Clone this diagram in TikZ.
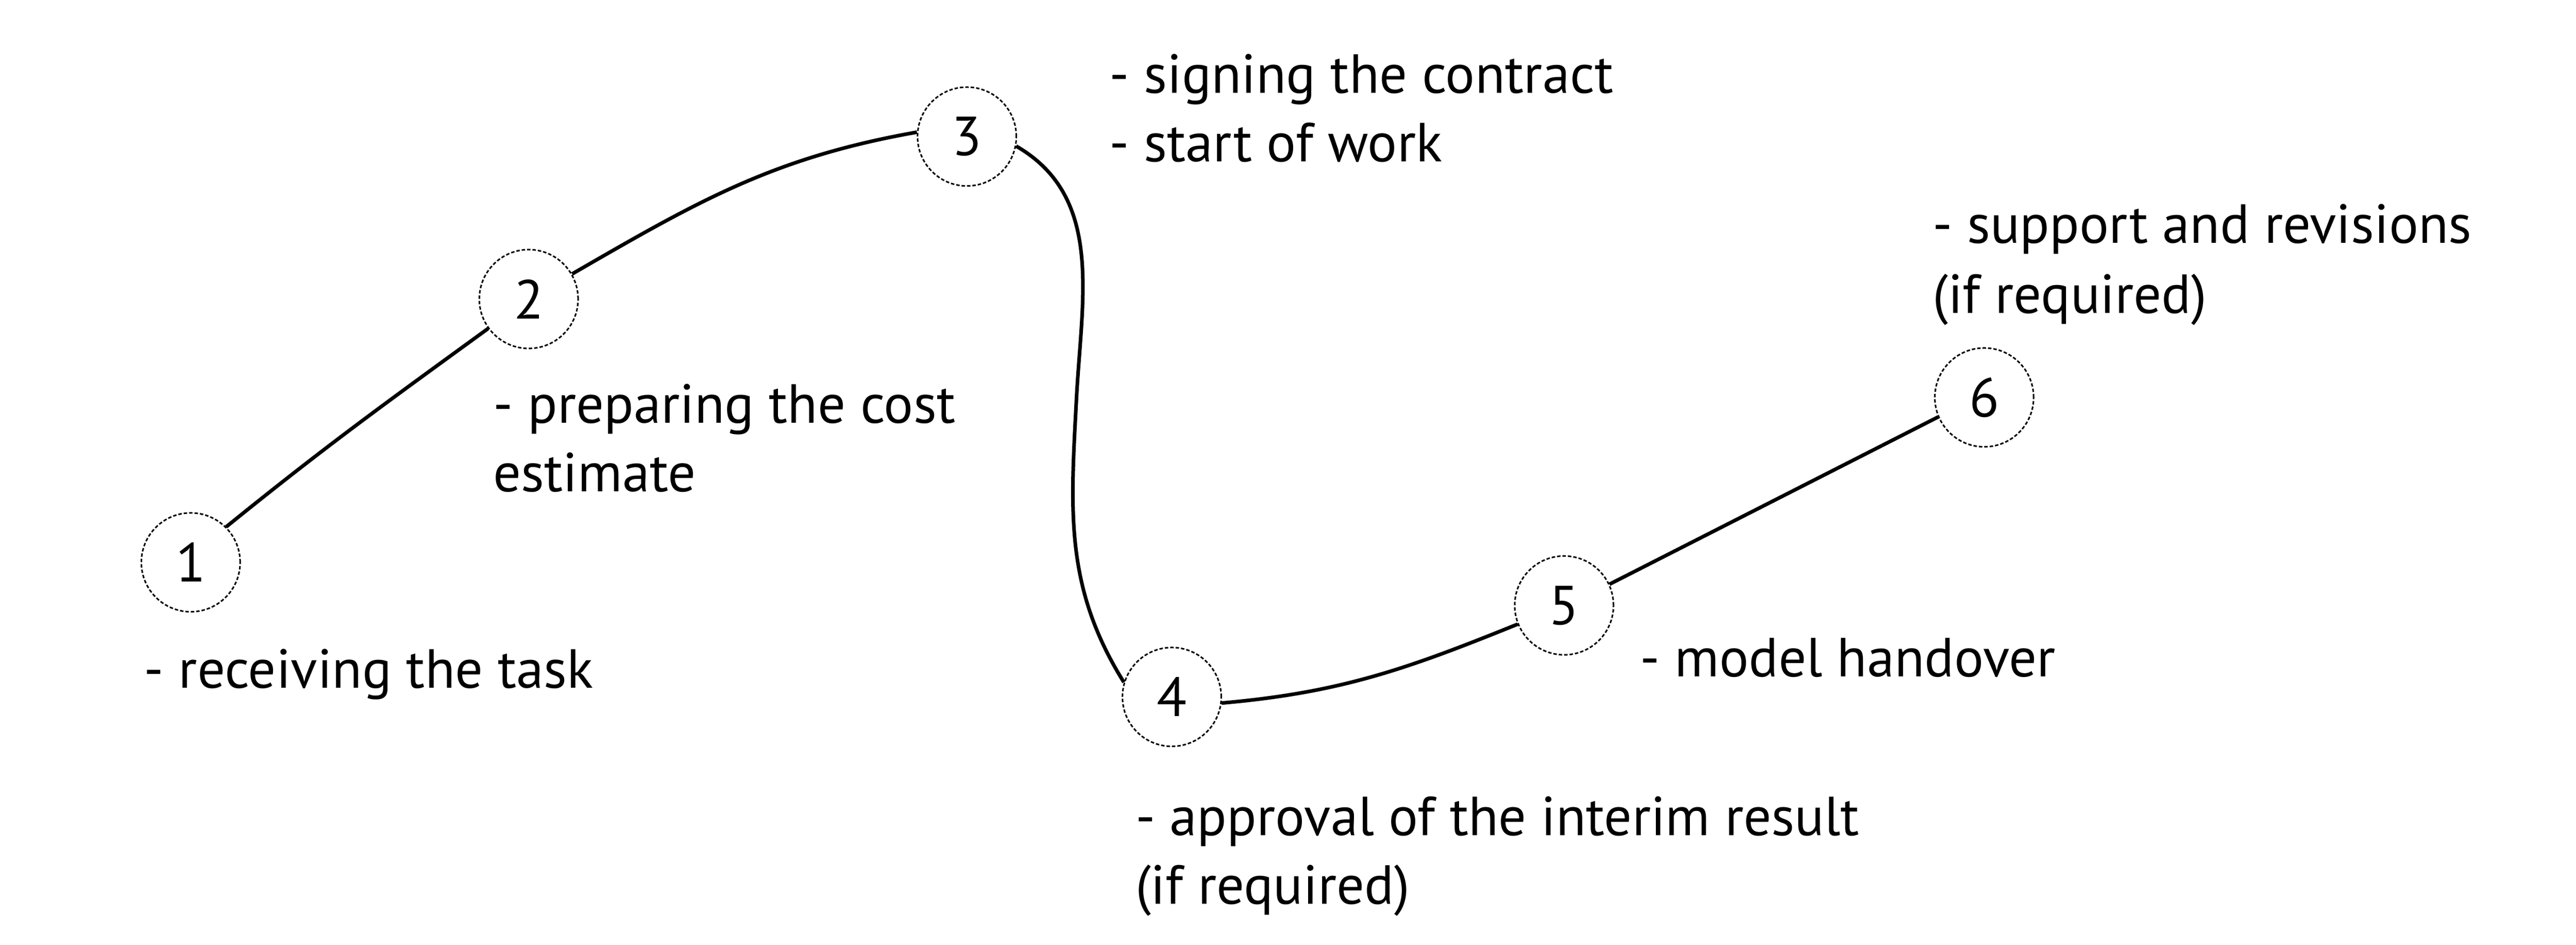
\documentclass[tikz,border=0pt]{standalone}
\usepackage{fontspec}
\setmainfont{PT Sans}
\begin{document}
\begin{tikzpicture}[
  every node/.style={font=\fontsize{32}{40}\selectfont},
  stepcircle/.style={circle, draw=black, line width=0.9pt, dash pattern=on 2pt off 1.15pt, minimum size=2.02cm, inner sep=0pt},
  label text/.style={anchor=base west, inner sep=0pt},
  link/.style={line width=2.1pt, draw=black}
]
\useasboundingbox (0,0) rectangle (52.67,19.30);

\node[stepcircle] (n1) at (3.90,7.81) {1};
\node[stepcircle] (n2) at (10.81,13.19) {2};
\node[stepcircle] (n3) at (19.77,16.51) {3};
\node[stepcircle] (n4) at (23.96,5.06) {4};
\node[stepcircle] (n5) at (31.98,6.93) {5};
\node[stepcircle] (n6) at (40.57,11.18) {6};

\coordinate (m34) at (22.01,11.16);

\draw[link] (n1.45) to[out=39,in=216] (n2.216.6);
\draw[link] (n2.30) to[out=30,in=190] (n3.175);
\draw[link] (n3.-11) to[out=-30,in=87] (m34) to[out=-93,in=122] (n4.163);
\draw[link] (n4.-7) to[out=5,in=202] (n5.202.7);
\draw[link] (n5.25) -- (n6.203);

\node[label text] (t1) at (2.94,5.24) {- receiving the task};
\node[label text] (t2a) at (10.08,10.66) {- preparing the cost};
\node[label text] (t2b) at (10.08,9.26) {estimate};
\node[label text] (t3a) at (22.68,17.40) {- signing the contract};
\node[label text] (t3b) at (22.68,16.00) {- start of work};
\node[label text] (t4a) at (23.21,2.23) {- approval of the interim result};
\node[label text] (t4b) at (23.21,0.83) {(if required)};
\node[label text] (t5) at (33.53,5.47) {- model handover};
\node[label text] (t6a) at (39.51,14.33) {- support and revisions};
\node[label text] (t6b) at (39.51,12.90) {(if required)};
\end{tikzpicture}
\end{document}
